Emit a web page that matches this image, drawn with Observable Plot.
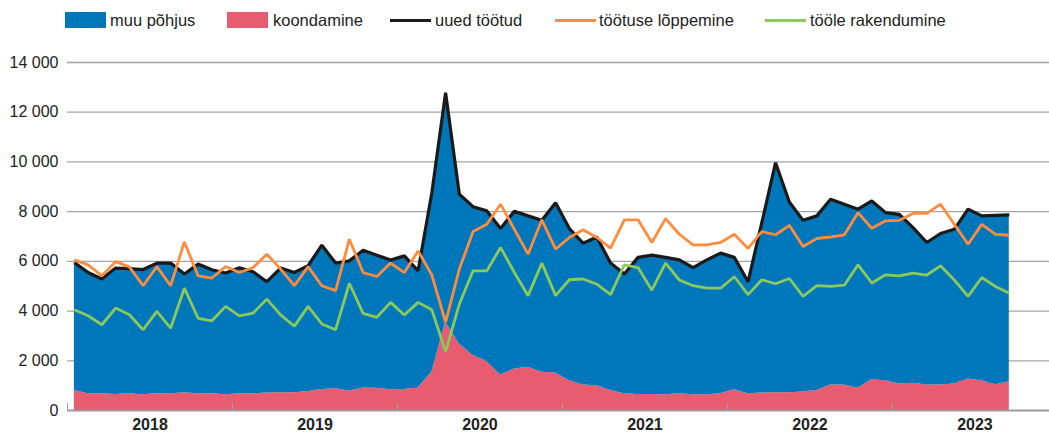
<!DOCTYPE html>
<html>
<head>
<meta charset="utf-8">
<script src="https://cdn.jsdelivr.net/npm/d3@7"></script>
<script src="https://cdn.jsdelivr.net/npm/@observablehq/plot@0.6"></script>
<style>
  html, body { margin: 0; padding: 0; background: #fff; }
  body { width: 1049px; height: 435px; overflow: hidden; font-family: "Liberation Sans", Arial, sans-serif; }
  #legend { position: relative; height: 40px; font-size: 16.5px; color: #222; }
  #legend .sw { position: absolute; }
  #legend .tx { position: absolute; top: 10px; line-height: 20px; white-space: nowrap; }
  #chart svg { display: block; }
</style>
</head>
<body>
<div id="legend"></div>
<div id="chart"></div>
<script>
// ---- data (monthly, Jan 2018 – Sep 2023) ----
const startYear = 2018;
const yearLabels = ["2018", "2019", "2020", "2021", "2022", "2023"];
const yTicks = [0, 2000, 4000, 6000, 8000, 10000, 12000, 14000];

const seriesNames = ["muu põhjus", "koondamine", "uued töötud", "töötuse lõppemine", "tööle rakendumine"];

// koondamine (redundancy) – bottom area
const koondamine = [
  800, 670, 670, 640, 670, 630, 670, 670, 710, 670, 670, 630,
  670, 670, 700, 710, 710, 760, 840, 870, 780, 910, 900, 830,
  840, 910, 1540, 3550, 2680, 2210, 1970, 1430, 1670, 1740, 1540, 1510,
  1200, 1030, 1000, 800, 670, 640, 640, 630, 670, 630, 630, 670,
  830, 670, 700, 710, 710, 740, 800, 1030, 1030, 900, 1240, 1200,
  1070, 1100, 1030, 1030, 1070, 1270, 1200, 1040, 1160
];

// uued töötud (new unemployed, total = koondamine + muu põhjus)
const uuedTootud = [
  5950, 5550, 5290, 5730, 5710, 5670, 5930, 5930, 5490, 5890, 5660, 5530,
  5740, 5580, 5180, 5730, 5550, 5830, 6650, 5930, 6020, 6450, 6250, 6050,
  6220, 5620, 8760, 12780, 8700, 8200, 8030, 7320, 8020, 7830, 7650, 8360,
  7320, 6730, 6980, 5930, 5490, 6160, 6250, 6160, 6060, 5750, 6060, 6330,
  6160, 5180, 7560, 9970, 8390, 7650, 7830, 8500, 8300, 8100, 8430, 7960,
  7890, 7360, 6760, 7120, 7290, 8100, 7830, 7850, 7870
];

// muu põhjus (other reason) = uued töötud − koondamine
const muuPohjus = uuedTootud.map((v, i) => v - koondamine[i]);

// töötuse lõppemine (end of unemployment)
const tootuseLoppemine = [
  6060, 5860, 5420, 5990, 5780, 5020, 5790, 5020, 6780, 5420, 5330, 5790,
  5550, 5750, 6290, 5690, 5020, 5790, 5020, 4820, 6890, 5550, 5390, 5930,
  5550, 6420, 5450, 3550, 5690, 7200, 7490, 8300, 7290, 6290, 7670, 6490,
  6960, 7270, 6960, 6530, 7670, 7670, 6760, 7720, 7090, 6660, 6660, 6760,
  7090, 6520, 7200, 7070, 7450, 6600, 6920, 6980, 7070, 7960, 7330, 7630,
  7650, 7930, 7930, 8300, 7490, 6690, 7490, 7090, 7050
];

// tööle rakendumine (placed in work)
const tooleRakendumine = [
  4050, 3810, 3450, 4120, 3850, 3250, 3990, 3310, 4920, 3710, 3610, 4190,
  3810, 3920, 4480, 3850, 3390, 4190, 3480, 3250, 5120, 3910, 3750, 4350,
  3840, 4350, 4050, 2370, 4280, 5620, 5620, 6560, 5550, 4620, 5930, 4620,
  5260, 5290, 5080, 4660, 5860, 5750, 4840, 5930, 5250, 5020, 4920, 4920,
  5380, 4660, 5260, 5100, 5310, 4590, 5020, 4990, 5040, 5860, 5130, 5460,
  5420, 5530, 5450, 5820, 5250, 4590, 5350, 4990, 4720
];

const colors = {
  muu: "#0077bb",
  koond: "#e75d6f",
  uued: "#1a1a1a",
  lopp: "#ff8b3d",
  rak: "#8cc95b"
};

// ---- table ----
const rows = uuedTootud.map((u, i) => ({
  t: startYear + (i + 0.5) / 12,
  koond: koondamine[i],
  muu: muuPohjus[i],
  top: koondamine[i] + muuPohjus[i],
  uued: u,
  lopp: tootuseLoppemine[i],
  rak: tooleRakendumine[i]
}));

const yearStarts = yearLabels.map(y => +y);
const yearMids = yearLabels.map(y => +y + 0.5);
const fmt = d3.formatLocale({decimal: ",", thousands: " ", grouping: [3], currency: ["", ""]}).format(",");

// ---- legend ----
const legend = document.getElementById("legend");
const legendItems = [
  {name: seriesNames[0], color: colors.muu, kind: "rect", sx: 65, tx: 110},
  {name: seriesNames[1], color: colors.koond, kind: "rect", sx: 227, tx: 273},
  {name: seriesNames[2], color: colors.uued, kind: "line", sx: 390, tx: 435},
  {name: seriesNames[3], color: colors.lopp, kind: "line", sx: 555, tx: 599},
  {name: seriesNames[4], color: colors.rak, kind: "line", sx: 765, tx: 810}
];
for (const it of legendItems) {
  const sw = document.createElement("div");
  sw.className = "sw";
  sw.style.left = it.sx + "px";
  sw.style.width = "41px";
  sw.style.background = it.color;
  if (it.kind === "rect") { sw.style.top = "12px"; sw.style.height = "16px"; }
  else { sw.style.top = "19px"; sw.style.height = "3px"; }
  legend.appendChild(sw);
  const tx = document.createElement("div");
  tx.className = "tx";
  tx.style.left = it.tx + "px";
  tx.textContent = it.name;
  legend.appendChild(tx);
}

// ---- chart ----
const chart = Plot.plot({
  width: 1049,
  height: 395,
  marginLeft: 67,
  marginRight: 0,
  marginTop: 22,
  marginBottom: 25,
  style: {fontFamily: "'Liberation Sans', Arial, sans-serif", fontSize: "16px", color: "#222", background: "#fff"},
  x: {type: "linear", domain: [2018, 2023.952], axis: null},
  y: {domain: [0, 14000], axis: null},
  marks: [
    Plot.ruleY(yTicks.filter(d => d > 0), {stroke: "#a3a3a3", strokeWidth: 1.3}),
    Plot.areaY(rows, {x: "t", y1: 0, y2: "koond", fill: colors.koond}),
    Plot.areaY(rows, {x: "t", y1: "koond", y2: "top", fill: colors.muu}),
    Plot.ruleY([0], {stroke: "#9a9a9a", strokeWidth: 2}),
    Plot.ruleX(yearStarts, {stroke: "#a0a0a0", strokeWidth: 1, insetTop: 341}),
    Plot.line(rows, {x: "t", y: "uued", stroke: colors.uued, strokeWidth: 3.2, strokeLinejoin: "miter", strokeLinecap: "butt"}),
    Plot.line(rows, {x: "t", y: "lopp", stroke: colors.lopp, strokeWidth: 2.8, strokeLinejoin: "miter", strokeLinecap: "butt"}),
    Plot.line(rows, {x: "t", y: "rak", stroke: colors.rak, strokeWidth: 2.8, strokeLinejoin: "miter", strokeLinecap: "butt"}),
    Plot.axisY({ticks: yTicks, tickSize: 0, tickPadding: 9, tickFormat: fmt, label: null, fill: "#222"}),
    Plot.axisX({ticks: yearMids, tickSize: 0, tickPadding: 8, label: null, fontWeight: "bold", fill: "#222",
      tickFormat: d => yearLabels[Math.floor(d) - startYear]})
  ]
});
document.getElementById("chart").appendChild(chart);
</script>
</body>
</html>
